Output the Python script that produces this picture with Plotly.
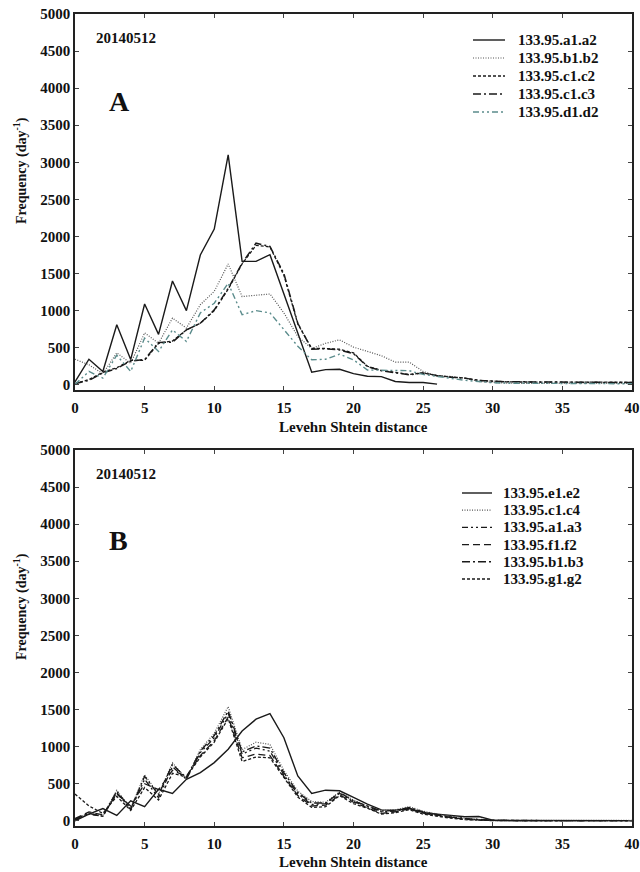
import plotly.graph_objects as go

# ---------------- data ----------------
x_a = list(range(0, 41))
a1_a2 = [40, 345, 180, 810, 340, 1090, 680, 1400, 1000, 1750, 2100, 3100, 1665, 1665, 1755, 1220,
         700, 170, 205, 210, 150, 115, 110, 45, 31, 31, 9]
b1_b2 = [345, 270, 150, 430, 290, 700, 560, 900, 765, 1080, 1260, 1630, 1190, 1205, 1225, 970,
         650, 490, 560, 606, 508, 450, 392, 306, 306, 180, 122, 112, 90, 45, 30,
         22, 20, 20, 20, 20, 20, 20, 20, 20, 20]
c1_c2 = [20, 70, 170, 230, 330, 330, 560, 590, 740, 830, 1000, 1290, 1630, 1880, 1860, 1480,
         820, 490, 490, 480, 430, 250, 195, 165, 140, 160, 125, 105, 90, 60, 45,
         40, 38, 38, 38, 36, 36, 35, 35, 34, 34]
c1_c3 = [15, 60, 160, 220, 320, 340, 570, 575, 740, 830, 1010, 1300, 1640, 1910, 1865, 1500,
         830, 480, 485, 470, 420, 245, 190, 160, 135, 160, 122, 103, 90, 58, 45,
         40, 40, 38, 38, 36, 36, 35, 35, 32, 30]
d1_d2 = [5, 180, 90, 400, 180, 630, 450, 740, 585, 970, 1100, 1370, 945, 1000, 970, 740,
         520, 337, 345, 413, 337, 200, 195, 195, 190, 140, 110, 80, 60, 45, 28,
         22, 20, 20, 18, 18, 18, 16, 16, 15, 15]

x_b = list(range(0, 41))
e1_e2 = [0, 90, 165, 72, 270, 190, 425, 370, 560, 650, 785, 965, 1210, 1370, 1445, 1120,
         605, 370, 413, 405, 315, 225, 148, 144, 166, 112, 90, 76, 54, 58, 9,
         4, 3, 3, 3, 3, 3, 3, 3, 3, 3]
c1_c4 = [20, 110, 70, 410, 170, 620, 360, 780, 570, 960, 1180, 1540, 960, 1060, 1030, 680,
         400, 260, 250, 390, 280, 200, 140, 150, 190, 130, 90, 60, 35, 20, 10,
         5, 5, 5, 5, 5, 5, 5, 5, 5, 5]
a1_a3 = [10, 90, 60, 380, 150, 560, 310, 730, 560, 920, 1120, 1450, 900, 980, 940, 620,
         360, 220, 230, 370, 260, 190, 120, 130, 170, 110, 70, 45, 25, 15, 5,
         3, 3, 3, 3, 3, 3, 3, 3, 3, 3]
f1_f2 = [30, 120, 80, 360, 200, 500, 420, 680, 600, 880, 1080, 1400, 850, 900, 880, 600,
         340, 200, 210, 350, 250, 180, 100, 120, 160, 100, 70, 40, 20, 10, 5,
         3, 3, 3, 3, 3, 3, 3, 3, 3, 3]
b1_b3 = [20, 100, 60, 400, 160, 600, 350, 760, 580, 940, 1150, 1480, 930, 1010, 980, 650,
         380, 240, 240, 380, 270, 195, 130, 140, 180, 120, 80, 50, 30, 15, 5,
         3, 3, 3, 3, 3, 3, 3, 3, 3, 3]
g1_g2 = [360, 200, 100, 330, 140, 450, 280, 640, 590, 860, 1060, 1380, 800, 860, 850, 580,
         320, 180, 190, 340, 230, 170, 90, 110, 150, 90, 60, 35, 15, 5, 3,
         2, 2, 2, 2, 2, 2, 2, 2, 2, 2]

x_ticks = [0, 5, 10, 15, 20, 25, 30, 35, 40]
y_ticks = list(range(0, 5001, 500))
date_label = "20140512"

# ---------------- styles ----------------
FONT = "Liberation Serif"
BLACK = "#1a1a1a"
GRAY = "#555555"
TEAL = "#5b8c8c"

series_a = [
    ("133.95.a1.a2", a1_a2, BLACK, "solid", 1.4),
    ("133.95.b1.b2", b1_b2, GRAY, "1px,1.5px", 1.2),
    ("133.95.c1.c2", c1_c2, BLACK, "3px,2px", 1.3),
    ("133.95.c1.c3", c1_c3, BLACK, "8px,3px,2px,3px", 1.5),
    ("133.95.d1.d2", d1_d2, TEAL, "6px,3px,2px,3px,2px,3px", 1.4),
]
series_b = [
    ("133.95.e1.e2", e1_e2, BLACK, "solid", 1.4),
    ("133.95.c1.c4", c1_c4, GRAY, "1px,1.5px", 1.2),
    ("133.95.a1.a3", a1_a3, BLACK, "6px,3px,2px,3px,2px,3px", 1.3),
    ("133.95.f1.f2", f1_f2, BLACK, "7px,4px", 1.3),
    ("133.95.b1.b3", b1_b3, BLACK, "8px,3px,2px,3px", 1.4),
    ("133.95.g1.g2", g1_g2, BLACK, "3px,2px", 1.3),
]

W, H = 640, 872
ML, MR, MT, MB = 75, 8, 14, 46
PW, PH = W - ML - MR, H - MT - MB


def px(xp):
    return (xp - ML) / PW


def py(yp):
    return (H - MB - yp) / PH


fig = go.Figure()
for name, vals, col, dash, w in series_a:
    fig.add_trace(go.Scatter(x=x_a[:len(vals)], y=vals, mode="lines", name=name,
                             line=dict(color=col, dash=dash, width=w),
                             xaxis="x", yaxis="y", showlegend=False))
for name, vals, col, dash, w in series_b:
    fig.add_trace(go.Scatter(x=x_b[:len(vals)], y=vals, mode="lines", name=name,
                             line=dict(color=col, dash=dash, width=w),
                             xaxis="x2", yaxis="y2", showlegend=False))

tickfont = dict(family=FONT, size=15, color="#111", weight="bold")
axis_common = dict(range=[0, 40], tickvals=x_ticks, ticks="inside", ticklen=4,
                   showline=True, linecolor="#222", linewidth=1.5, mirror="ticks",
                   showgrid=False, zeroline=False, automargin=False,
                   ticklabelstandoff=3, tickfont=tickfont)
yaxis_common = dict(range=[-70, 5000], tickvals=y_ticks, ticks="inside", ticklen=4,
                    showline=True, linecolor="#222", linewidth=1.5, mirror="ticks",
                    showgrid=False, zeroline=False, automargin=False,
                    tickfont=tickfont)

top_a = (H - MB - 390) / PH
top_b = (H - MB - 450) / PH

fig.update_layout(
    width=W, height=H, margin=dict(l=ML, r=MR, t=MT, b=MB, autoexpand=False),
    paper_bgcolor="white", plot_bgcolor="white",
    xaxis=dict(axis_common, domain=[0, 1], anchor="y"),
    yaxis=dict(yaxis_common, domain=[top_a, 1], anchor="x"),
    xaxis2=dict(axis_common, domain=[0, 1], anchor="y2"),
    yaxis2=dict(yaxis_common, domain=[0, top_b], anchor="x2"),
    showlegend=False,
)

ann = []
shapes = []
bold = dict(family=FONT, size=15, color="#111", weight="bold")

# axis titles
for ty, ycen in [(427, 171), (862, 607)]:
    ann.append(dict(text="Levehn Shtein distance", x=px(353), y=py(ty), xref="paper", yref="paper",
                    showarrow=False, font=bold, xanchor="center", yanchor="middle"))
    ann.append(dict(text="Frequency (day<sup>-1</sup>)", x=px(20), y=py(ycen), xref="paper", yref="paper",
                    showarrow=False, font=dict(bold, size=14), textangle=-90,
                    xanchor="center", yanchor="middle"))

# date labels and panel letters
for yy in [38, 474]:
    ann.append(dict(text=date_label, x=px(94), y=py(yy), xref="paper", yref="paper",
                    showarrow=False, font=bold, xanchor="left", yanchor="middle"))
ann.append(dict(text="A", x=px(119), y=py(102), xref="paper", yref="paper", showarrow=False,
                font=dict(family=FONT, size=28, color="#111", weight="bold"),
                xanchor="center", yanchor="middle"))
ann.append(dict(text="B", x=px(118), y=py(540), xref="paper", yref="paper", showarrow=False,
                font=dict(family=FONT, size=28, color="#111", weight="bold"),
                xanchor="center", yanchor="middle"))

# legends (drawn manually to match spacing)
def legend(series, x0, x1, xt, y0, dy):
    for i, (name, vals, col, dash, w) in enumerate(series):
        yy = y0 + i * dy
        shapes.append(dict(type="line", xref="paper", yref="paper", x0=px(x0), x1=px(x1),
                           y0=py(yy), y1=py(yy), line=dict(color=col, dash=dash, width=w)))
        ann.append(dict(text=name, x=px(xt), y=py(yy), xref="paper", yref="paper",
                        showarrow=False, font=bold, xanchor="left", yanchor="middle"))

legend(series_a, 473, 505, 516, 40, 18)
legend(series_b, 462, 492, 501, 493, 17.2)

fig.update_layout(annotations=ann, shapes=shapes)
fig.write_html("out.html", config={"displayModeBar": False},
               post_script="document.body.style.margin='0';document.body.style.overflow='hidden';")
